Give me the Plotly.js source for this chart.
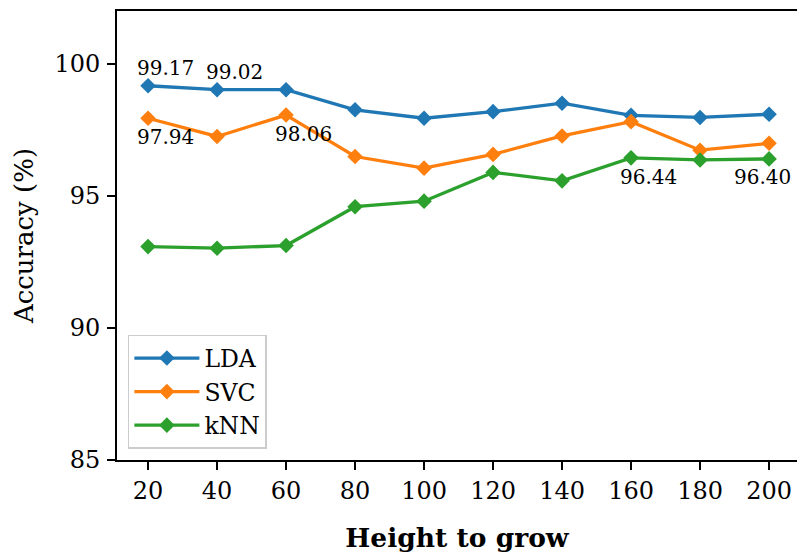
<!DOCTYPE html>
<html>
<head>
<meta charset="utf-8">
<script src="https://cdn.plot.ly/plotly-3.0.1.min.js"></script>
<style>html,body{margin:0;padding:0;background:#fff;overflow:hidden}</style>
</head>
<body>
<div id="chart" style="width:797px;height:553px"></div>
<script>
const heights = [20, 40, 60, 80, 100, 120, 140, 160, 180, 200];
const ldaAcc = [99.17, 99.02, 99.02, 98.26, 97.94, 98.19, 98.51, 98.05, 97.97, 98.09];
const svcAcc = [97.94, 97.25, 98.06, 96.49, 96.05, 96.57, 97.27, 97.81, 96.73, 96.99];
const knnAcc = [93.08, 93.02, 93.12, 94.59, 94.80, 95.89, 95.57, 96.44, 96.36, 96.40];
const seriesNames = ["LDA", "SVC", "kNN"];
const yTicks = [85, 90, 95, 100];

const colors = ["#1f77b4", "#ff7f0e", "#2ca02c"];
const allSeries = [ldaAcc, svcAcc, knnAcc];
const FONT = "DejaVu Serif";

const traces = allSeries.map((ys, i) => ({
  x: heights, y: ys, name: seriesNames[i], type: "scatter", mode: "lines+markers",
  line: {color: colors[i], width: 3.3},
  marker: {symbol: "diamond", size: 12, color: colors[i]}
}));

// which points are labelled: [series index, point index, placement]
const labelled = [
  [0, 0, "above"], [0, 1, "above"],
  [1, 0, "below"], [1, 2, "below"],
  [2, 7, "below"], [2, 9, "belowLeft"]
];
const shifts = {above: [17, 18], below: [17, -19], belowLeft: [-7, -18]};
const annotations = labelled.map(([s, p, where]) => ({
  x: heights[p], y: allSeries[s][p], xref: "x", yref: "y",
  text: allSeries[s][p].toFixed(2), showarrow: false,
  xanchor: "center", yanchor: "middle",
  xshift: shifts[where][0], yshift: shifts[where][1],
  font: {family: FONT, size: 20, color: "#000"}
}));

const layout = {
  width: 797, height: 553,
  margin: {l: 117, r: 0, t: 11, b: 93},
  paper_bgcolor: "#fff", plot_bgcolor: "#fff",
  font: {family: FONT, size: 24, color: "#000"},
  showlegend: true,
  legend: {
    x: 0.016, y: 0.025, xanchor: "left", yanchor: "bottom",
    bgcolor: "rgba(255,255,255,0.8)", bordercolor: "#cccccc", borderwidth: 1.5,
    font: {family: FONT, size: 23.5, color: "#000"},
    tracegroupgap: 0, itemwidth: 65
  },
  xaxis: {
    range: [11, 208.1], tickvals: heights, ticktext: heights.map(String),
    showgrid: false, zeroline: false,
    showline: true, linecolor: "#000", linewidth: 1.8, mirror: true,
    ticks: "outside", ticklen: 8, tickwidth: 1.8, tickcolor: "#000",
    tickfont: {family: FONT, size: 24, color: "#000"},
    title: {text: "<b>Height to grow</b>", font: {family: FONT, size: 26.5, color: "#000"}, standoff: 28}
  },
  yaxis: {
    range: [85, 102], tickvals: yTicks, ticktext: yTicks.map(String),
    showgrid: false, zeroline: false,
    showline: true, linecolor: "#000", linewidth: 1.8, mirror: false,
    ticks: "outside", ticklen: 8, tickwidth: 1.8, tickcolor: "#000",
    ticklabelstandoff: 2,
    tickfont: {family: FONT, size: 24, color: "#000"},
    title: {text: "Accuracy (%)", font: {family: FONT, size: 26, color: "#000"}, standoff: 13}
  },
  annotations: annotations
};

Plotly.newPlot("chart", traces, layout, {displayModeBar: false, staticPlot: true});
</script>
</body>
</html>
